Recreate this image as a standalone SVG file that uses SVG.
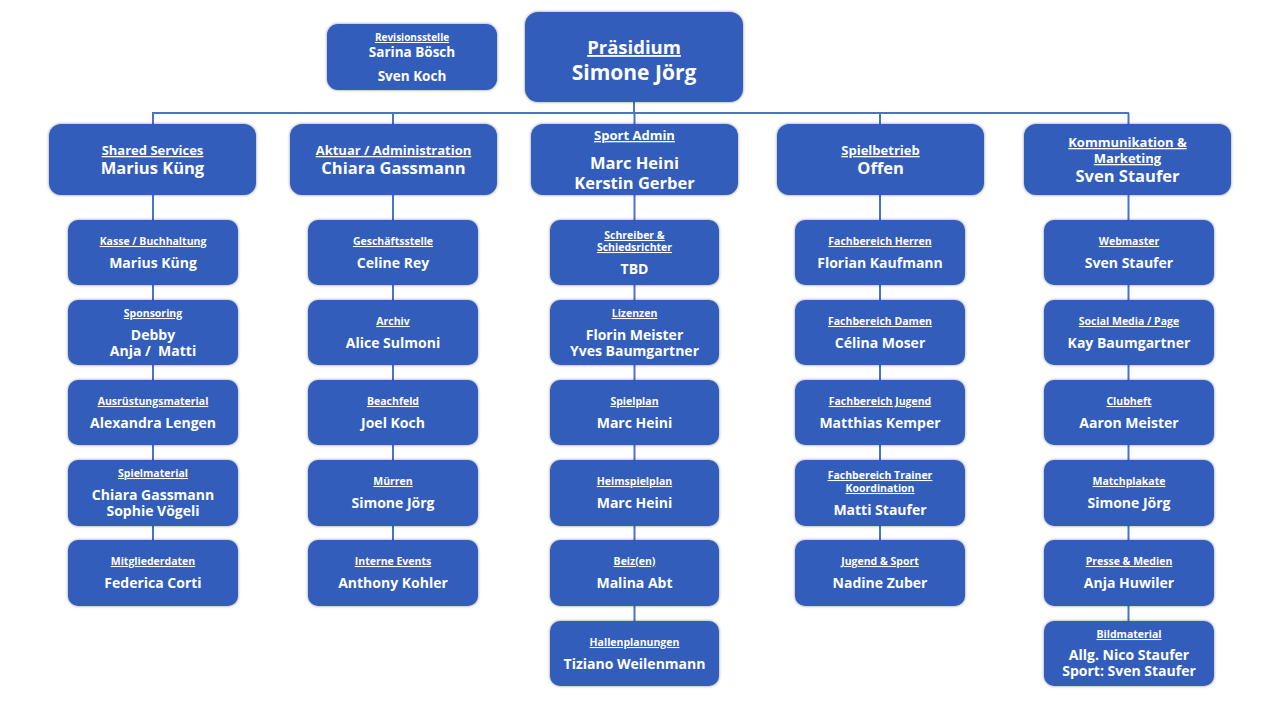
<svg xmlns="http://www.w3.org/2000/svg" width="1280" height="720" viewBox="0 0 1280 720">
<defs>
<filter id="sh" x="-20%" y="-20%" width="140%" height="140%">
<feDropShadow dx="0" dy="0" stdDeviation="1.8" flood-color="#000" flood-opacity="0.45"/>
</filter>
<style>
.b{fill:#305DBB;filter:url(#sh);}
.ln{stroke:#4A74C9;stroke-width:2;fill:none;}
text{font-family:"Open Sans","Liberation Sans",sans-serif;font-weight:700;fill:#fff;text-anchor:middle;}
.u{text-decoration:underline;}
.l2{font-size:10.5px;}
.n2{font-size:14px;}
.l1{font-size:13px;}
.n1{font-size:16.5px;}
</style>
</defs>
<rect width="1280" height="720" fill="#fff"/>
<g id="connectors">
<line class="ln" x1="634" y1="102" x2="634" y2="113"/>
<line class="ln" x1="152" y1="113" x2="1129" y2="113"/>
<line class="ln" x1="153" y1="113" x2="153" y2="540"/>
<line class="ln" x1="393" y1="113" x2="393" y2="540"/>
<line class="ln" x1="634.5" y1="113" x2="634.5" y2="621"/>
<line class="ln" x1="880" y1="113" x2="880" y2="540"/>
<line class="ln" x1="1128.5" y1="113" x2="1128.5" y2="621"/>
</g>
<g id="praesidium"><rect class="b" x="525" y="12" width="218" height="90" rx="13"/><text class="u" x="634" y="54" font-size="18.5">Präsidium</text><text x="634" y="80" font-size="21">Simone Jörg</text></g>
<g id="revision"><rect class="b" x="327" y="24" width="170" height="66" rx="11"/><text class="u" x="412" y="41" font-size="10">Revisionsstelle</text><text x="412" y="57" font-size="13.5">Sarina Bösch</text><text x="412" y="81" font-size="13.5">Sven Koch</text></g>

<g id="shared"><rect class="b" x="49" y="124" width="207" height="71" rx="12"/><text class="u l1" x="152.5" y="155">Shared Services</text><text class="n1" x="152.5" y="174">Marius Küng</text></g>
<g id="aktuar"><rect class="b" x="290" y="124" width="207" height="71" rx="12"/><text class="u l1" x="393.5" y="155">Aktuar / Administration</text><text class="n1" x="393.5" y="174">Chiara Gassmann</text></g>
<g id="sportadmin"><rect class="b" x="531" y="124" width="207" height="71" rx="12"/><text class="u l1" x="634.5" y="140">Sport Admin</text><text class="n1" x="634.5" y="169">Marc Heini</text><text class="n1" x="634.5" y="189">Kerstin Gerber</text></g>
<g id="spielbetrieb"><rect class="b" x="777" y="124" width="207" height="71" rx="12"/><text class="u l1" x="880.5" y="155">Spielbetrieb</text><text class="n1" x="880.5" y="174">Offen</text></g>
<g id="kommunikation"><rect class="b" x="1024" y="124" width="207" height="71" rx="12"/><text class="u l1" x="1127.5" y="147">Kommunikation &amp;</text><text class="u l1" x="1127.5" y="163">Marketing</text><text class="n1" x="1127.5" y="182">Sven Staufer</text></g>

<!-- column 1 -->
<g id="kasse"><rect class="b" x="68" y="220" width="170" height="65" rx="10"/><text class="u l2" x="153" y="245">Kasse / Buchhaltung</text><text class="n2" x="153" y="268">Marius Küng</text></g>
<g id="sponsoring"><rect class="b" x="68" y="300" width="170" height="65" rx="10"/><text class="u l2" x="153" y="317">Sponsoring</text><text class="n2" x="153" y="340">Debby</text><text class="n2" x="153" y="356">Anja /&#160; Matti</text></g>
<g id="ausruestung"><rect class="b" x="68" y="380" width="170" height="65" rx="10"/><text class="u l2" x="153" y="405">Ausrüstungsmaterial</text><text class="n2" x="153" y="428">Alexandra Lengen</text></g>
<g id="spielmaterial"><rect class="b" x="68" y="460" width="170" height="66" rx="10"/><text class="u l2" x="153" y="477">Spielmaterial</text><text class="n2" x="153" y="500">Chiara Gassmann</text><text class="n2" x="153" y="516">Sophie Vögeli</text></g>
<g id="mitglieder"><rect class="b" x="68" y="540" width="170" height="66" rx="10"/><text class="u l2" x="153" y="565">Mitgliederdaten</text><text class="n2" x="153" y="588">Federica Corti</text></g>

<!-- column 2 -->
<g id="geschaeft"><rect class="b" x="308" y="220" width="170" height="65" rx="10"/><text class="u l2" x="393" y="245">Geschäftsstelle</text><text class="n2" x="393" y="268">Celine Rey</text></g>
<g id="archiv"><rect class="b" x="308" y="300" width="170" height="65" rx="10"/><text class="u l2" x="393" y="325">Archiv</text><text class="n2" x="393" y="348">Alice Sulmoni</text></g>
<g id="beachfeld"><rect class="b" x="308" y="380" width="170" height="65" rx="10"/><text class="u l2" x="393" y="405">Beachfeld</text><text class="n2" x="393" y="428">Joel Koch</text></g>
<g id="muerren"><rect class="b" x="308" y="460" width="170" height="66" rx="10"/><text class="u l2" x="393" y="485">Mürren</text><text class="n2" x="393" y="508">Simone Jörg</text></g>
<g id="events"><rect class="b" x="308" y="540" width="170" height="66" rx="10"/><text class="u l2" x="393" y="565">Interne Events</text><text class="n2" x="393" y="588">Anthony Kohler</text></g>

<!-- column 3 -->
<g id="schreiber"><rect class="b" x="550" y="220" width="169" height="65" rx="10"/><text class="u l2" x="634.5" y="239">Schreiber &amp;</text><text class="u l2" x="634.5" y="251">Schiedsrichter</text><text class="n2" x="634.5" y="274">TBD</text></g>
<g id="lizenzen"><rect class="b" x="550" y="300" width="169" height="65" rx="10"/><text class="u l2" x="634.5" y="317">Lizenzen</text><text class="n2" x="634.5" y="340">Florin Meister</text><text class="n2" x="634.5" y="356">Yves Baumgartner</text></g>
<g id="spielplan"><rect class="b" x="550" y="380" width="169" height="65" rx="10"/><text class="u l2" x="634.5" y="405">Spielplan</text><text class="n2" x="634.5" y="428">Marc Heini</text></g>
<g id="heimspielplan"><rect class="b" x="550" y="460" width="169" height="66" rx="10"/><text class="u l2" x="634.5" y="485">Heimspielplan</text><text class="n2" x="634.5" y="508">Marc Heini</text></g>
<g id="beiz"><rect class="b" x="550" y="540" width="169" height="66" rx="10"/><text class="u l2" x="634.5" y="565">Beiz(en)</text><text class="n2" x="634.5" y="588">Malina Abt</text></g>
<g id="hallen"><rect class="b" x="550" y="621" width="169" height="65" rx="10"/><text class="u l2" x="634.5" y="646">Hallenplanungen</text><text class="n2" x="634.5" y="669">Tiziano Weilenmann</text></g>

<!-- column 4 -->
<g id="herren"><rect class="b" x="795" y="220" width="170" height="65" rx="10"/><text class="u l2" x="880" y="245">Fachbereich Herren</text><text class="n2" x="880" y="268">Florian Kaufmann</text></g>
<g id="damen"><rect class="b" x="795" y="300" width="170" height="65" rx="10"/><text class="u l2" x="880" y="325">Fachbereich Damen</text><text class="n2" x="880" y="348">Célina Moser</text></g>
<g id="jugend"><rect class="b" x="795" y="380" width="170" height="65" rx="10"/><text class="u l2" x="880" y="405">Fachbereich Jugend</text><text class="n2" x="880" y="428">Matthias Kemper</text></g>
<g id="trainer"><rect class="b" x="795" y="460" width="170" height="66" rx="10"/><text class="u l2" x="880" y="479">Fachbereich Trainer</text><text class="u l2" x="880" y="492">Koordination</text><text class="n2" x="880" y="515">Matti Staufer</text></g>
<g id="jugendsport"><rect class="b" x="795" y="540" width="170" height="66" rx="10"/><text class="u l2" x="880" y="565">Jugend &amp; Sport</text><text class="n2" x="880" y="588">Nadine Zuber</text></g>

<!-- column 5 -->
<g id="webmaster"><rect class="b" x="1044" y="220" width="170" height="65" rx="10"/><text class="u l2" x="1129" y="245">Webmaster</text><text class="n2" x="1129" y="268">Sven Staufer</text></g>
<g id="social"><rect class="b" x="1044" y="300" width="170" height="65" rx="10"/><text class="u l2" x="1129" y="325">Social Media / Page</text><text class="n2" x="1129" y="348">Kay Baumgartner</text></g>
<g id="clubheft"><rect class="b" x="1044" y="380" width="170" height="65" rx="10"/><text class="u l2" x="1129" y="405">Clubheft</text><text class="n2" x="1129" y="428">Aaron Meister</text></g>
<g id="matchplakate"><rect class="b" x="1044" y="460" width="170" height="66" rx="10"/><text class="u l2" x="1129" y="485">Matchplakate</text><text class="n2" x="1129" y="508">Simone Jörg</text></g>
<g id="presse"><rect class="b" x="1044" y="540" width="170" height="66" rx="10"/><text class="u l2" x="1129" y="565">Presse &amp; Medien</text><text class="n2" x="1129" y="588">Anja Huwiler</text></g>
<g id="bildmaterial"><rect class="b" x="1044" y="621" width="170" height="65" rx="10"/><text class="u l2" x="1129" y="638">Bildmaterial</text><text class="n2" x="1129" y="660">Allg. Nico Staufer</text><text class="n2" x="1129" y="676">Sport: Sven Staufer</text></g>
</svg>
